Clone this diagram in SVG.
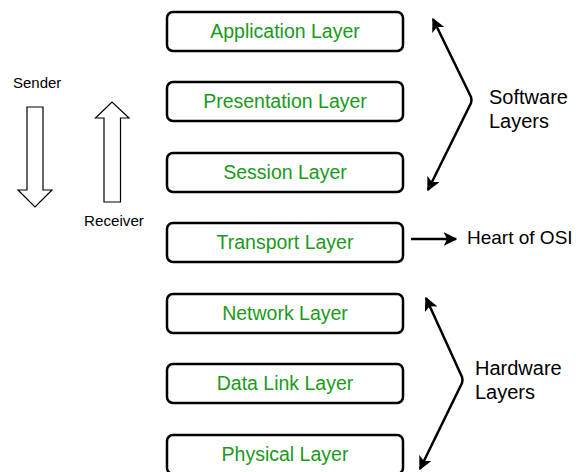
<svg xmlns="http://www.w3.org/2000/svg" width="576" height="472" viewBox="0 0 576 472">
<style>
.box{fill:#fff;stroke:#000;stroke-width:2.5}
.lbl{font-family:"Liberation Sans",Arial,sans-serif;font-size:19.5px;fill:#1a9a1a;text-anchor:middle}
.t{font-family:"Liberation Sans",Arial,sans-serif;fill:#000}
.con{fill:none;stroke:#000;stroke-width:2.5}
.hol{fill:#fff;stroke:#000;stroke-width:1.2}
</style>
<defs>
<marker id="ah" viewBox="0 0 10 10" refX="9" refY="5" markerWidth="5.5" markerHeight="5.5" orient="auto-start-reverse" markerUnits="strokeWidth">
<path d="M0,0 L10,5 L0,10 L2.5,5 Z" fill="#000"/>
</marker>
</defs>
<rect width="576" height="472" fill="#fff"/>
<g id="application"><rect class="box" x="167" y="12" width="236" height="39" rx="6"/><text class="lbl" x="285" y="38">Application Layer</text></g>
<g id="presentation"><rect class="box" x="167" y="82" width="236" height="39" rx="6"/><text class="lbl" x="285" y="108">Presentation Layer</text></g>
<g id="session"><rect class="box" x="167" y="153" width="236" height="39" rx="6"/><text class="lbl" x="285" y="179">Session Layer</text></g>
<g id="transport"><rect class="box" x="167" y="223" width="236" height="39" rx="6"/><text class="lbl" x="285" y="249">Transport Layer</text></g>
<g id="network"><rect class="box" x="167" y="294" width="236" height="39" rx="6"/><text class="lbl" x="285" y="320">Network Layer</text></g>
<g id="datalink"><rect class="box" x="167" y="364" width="236" height="39" rx="6"/><text class="lbl" x="285" y="390">Data Link Layer</text></g>
<g id="physical"><rect class="box" x="167" y="435" width="236" height="39" rx="6"/><text class="lbl" x="285" y="461">Physical Layer</text></g>
<g id="sender">
<text class="t" x="13" y="88" font-size="15">Sender</text>
<path class="hol" d="M27,107 L43,107 L43,190 L52,190 L35,207 L18,190 L27,190 Z"/>
</g>
<g id="receiver">
<text class="t" x="84" y="226" font-size="15.2">Receiver</text>
<path class="hol" d="M104,202 L120.5,202 L120.5,118 L129,118 L112,102 L95.5,118 L104,118 Z"/>
</g>
<g id="software"><text class="t" x="489" y="104" font-size="20">Software</text><text class="t" x="489" y="128" font-size="20">Layers</text></g>
<g id="heart"><text class="t" x="467" y="244" font-size="19">Heart of OSI</text></g>
<g id="hardware"><text class="t" x="475" y="375" font-size="20">Hardware</text><text class="t" x="475" y="399" font-size="20">Layers</text></g>
<g id="connectors">
<path class="con" d="M433,19 L471,97 Q472,100 471,103 L428,190" marker-start="url(#ah)" marker-end="url(#ah)"/>
<path class="con" d="M411,239 L456,239" marker-end="url(#ah)"/>
<path class="con" d="M426,298 L462,377 Q463,380 462,383 L420,469" marker-start="url(#ah)" marker-end="url(#ah)"/>
</g>
</svg>
